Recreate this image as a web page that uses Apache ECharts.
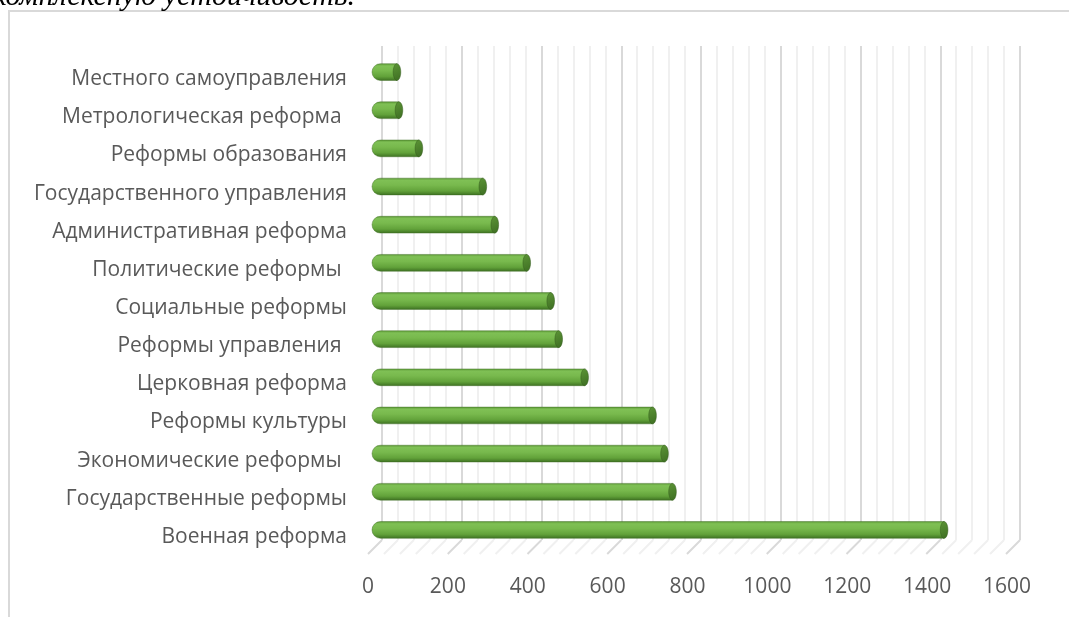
<!DOCTYPE html>
<html>
<head>
<meta charset="utf-8">
<script src="https://cdn.jsdelivr.net/npm/echarts@6/dist/echarts.min.js"></script>
<style>
  html, body { margin: 0; padding: 0; background: #ffffff; }
  #chart { width: 1069px; height: 617px; }
</style>
</head>
<body>
<div id="chart"></div>
<script>
// Reform categories, bottom to top
const categories = [
  'Военная реформа',
  'Государственные реформы',
  'Экономические реформы ',
  'Реформы культуры',
  'Церковная реформа',
  'Реформы управления ',
  'Социальные реформы',
  'Политические реформы ',
  'Административная реформа',
  'Государственного управления',
  'Реформы образования',
  'Метрологическая реформа ',
  'Местного самоуправления'
];
const values = [1425, 745, 725, 695, 525, 460, 440, 380, 300, 270, 110, 60, 55];

// Value axis range and tick spacing
const axisMin = 0;
const axisMax = 1600;
const majorStep = 200;
const minorStep = 40;

// Floor lines run from every (major and minor) gridline of the back wall
const floorTicks = [];
for (let v = axisMin; v <= axisMax; v += minorStep) floorTicks.push(v);

const DEPTH = 14;          // perspective offset between back wall and front edge
const labelFont = '"Open Sans", "Noto Sans", sans-serif';
const textColor = '#595959';
const majorColor = '#d9d9d9';
const minorColor = '#f0f0f0';

const chart = echarts.init(document.getElementById('chart'), null, { renderer: 'canvas' });

function cylinder(params, api) {
  const v = api.value(0);
  const c = api.value(1);
  const start = api.coord([axisMin, c]);
  const end = api.coord([v, c]);
  const h = api.size([0, 1])[1] * 0.44;
  const rx = 3.8;
  const y0 = end[1] - h / 2;
  return {
    type: 'group',
    children: [
      {
        type: 'rect',
        shape: { x: start[0] - 3, y: y0, width: end[0] - start[0] + 3, height: h, r: [h / 2, 0, 0, h / 2] },
        style: {
          fill: new echarts.graphic.LinearGradient(0, 0, 0, 1, [
            { offset: 0, color: '#5a9634' },
            { offset: 0.15, color: '#7fc055' },
            { offset: 0.42, color: '#78b94d' },
            { offset: 0.75, color: '#62a23a' },
            { offset: 1, color: '#3c6f21' }
          ]),
          stroke: 'rgba(58,104,32,0.6)',
          lineWidth: 0.7
        }
      },
      {
        type: 'ellipse',
        shape: { cx: end[0], cy: end[1], rx: rx, ry: h / 2 },
        style: {
          fill: new echarts.graphic.LinearGradient(0, 0, 1, 1, [
            { offset: 0, color: '#5c9536' },
            { offset: 1, color: '#3d6d22' }
          ]),
          stroke: 'rgba(52,90,28,0.7)',
          lineWidth: 0.7
        }
      }
    ]
  };
}

function floorLine(params, api) {
  const v = api.value(0);
  const p = api.coord([v, 0]);
  const major = v % majorStep === 0;
  return {
    type: 'line',
    shape: { x1: p[0], y1: p[1], x2: p[0] - DEPTH, y2: p[1] + DEPTH },
    style: { stroke: major ? majorColor : minorColor, lineWidth: 2 }
  };
}

chart.setOption({
  backgroundColor: '#ffffff',
  animation: false,
  grid: [
    { left: 382, right: 49, top: 46, bottom: 77 },   // back wall
    { left: 375, right: 55, top: 53, bottom: 68 },   // bars (mid depth)
    { left: 368, right: 62, top: 60, bottom: 61 }    // front edge: labels
  ],
  xAxis: [
    {
      gridIndex: 0, type: 'value', min: axisMin, max: axisMax, interval: majorStep,
      axisLine: { show: false }, axisTick: { show: false }, axisLabel: { show: false },
      splitLine: { show: true, lineStyle: { color: majorColor, width: 2 } },
      minorTick: { show: false, splitNumber: majorStep / minorStep },
      minorSplitLine: { show: true, lineStyle: { color: minorColor, width: 2 } }
    },
    {
      gridIndex: 1, type: 'value', min: axisMin, max: axisMax, interval: majorStep, show: false
    },
    {
      gridIndex: 2, type: 'value', min: axisMin, max: axisMax, interval: majorStep,
      axisLine: { show: false }, axisTick: { show: false }, splitLine: { show: false },
      axisLabel: {
        color: textColor, fontFamily: labelFont, fontSize: 21, margin: 21,
        formatter: v => String(v)
      }
    }
  ],
  yAxis: [
    { gridIndex: 0, type: 'value', min: 0, max: 1, show: false },
    { gridIndex: 1, type: 'category', data: categories, show: false },
    {
      gridIndex: 2, type: 'category', data: categories,
      axisLine: { show: false }, axisTick: { show: false }, splitLine: { show: false },
      axisLabel: { color: textColor, fontFamily: labelFont, fontSize: 21, margin: 21 }
    }
  ],
  series: [
    {
      type: 'custom', xAxisIndex: 0, yAxisIndex: 0, silent: true,
      data: floorTicks.map(v => [v]), renderItem: floorLine, z: 1
    },
    {
      type: 'custom', xAxisIndex: 1, yAxisIndex: 1,
      data: values.map((v, i) => [v, i]), encode: { x: 0, y: 1 },
      renderItem: cylinder, z: 3
    }
  ],
  graphic: [
    {
      type: 'rect', silent: true, z: -1,
      shape: { x: 9, y: 11, width: 1070, height: 640 },
      style: { fill: 'none', stroke: '#d9d9d9', lineWidth: 2 }
    },
    {
      type: 'text', silent: true,
      style: {
        text: 'комплексную устойчивость.',
        x: 355, y: -3,
        align: 'right', verticalAlign: 'middle',
        font: 'italic 30px "Liberation Serif", "DejaVu Serif", serif',
        fill: '#000000'
      }
    }
  ]
});
</script>
</body>
</html>
